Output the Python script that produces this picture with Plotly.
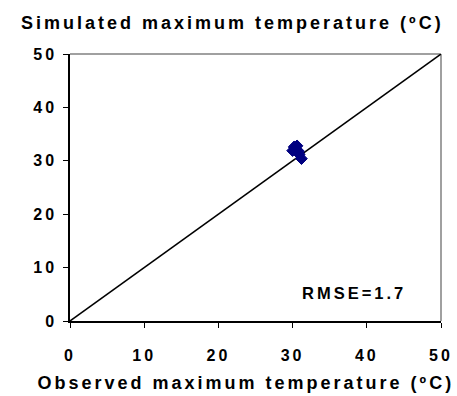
import plotly.graph_objects as go

# Observed vs simulated daily maximum temperature (°C)
observed = [30.2, 30.6, 30.0, 30.8, 30.4, 30.9, 31.2]
simulated = [32.6, 32.8, 31.9, 31.8, 32.2, 31.2, 30.4]

# 1:1 reference line
line_x = [0, 50]
line_y = [0, 50]

tick_vals = [0, 10, 20, 30, 40, 50]
tick_text = ["0", "10", "20", "30", "40", "50"]

rmse_label = "RMSE=1.7"
x_title = "Observed maximum temperature (ºC)"
y_title = "Simulated maximum temperature (ºC)"

FONT = "Liberation Sans, Arial, sans-serif"

fig = go.Figure()
fig.add_trace(go.Scatter(
    x=line_x, y=line_y, mode="lines",
    line=dict(color="black", width=1.5),
    hoverinfo="skip", showlegend=False,
))
fig.add_trace(go.Scatter(
    x=observed, y=simulated, mode="markers",
    marker=dict(symbol="diamond", size=9, color="#000080",
                line=dict(color="#000080", width=1)),
    showlegend=False,
))

axis_common = dict(
    range=[0, 50], tickvals=tick_vals, ticktext=tick_text,
    showgrid=False, zeroline=False, showline=True,
    linecolor="black", linewidth=1.5,
    ticks="outside", ticklen=5, tickwidth=1, tickcolor="black",
    tickfont=dict(family=FONT, size=16, color="black", weight="bold"),
)
fig.update_xaxes(**axis_common, ticklabelstandoff=14)
fig.update_yaxes(**axis_common, ticklabelstandoff=3)

# grey top and right edges of the plot frame
for x0, y0, x1, y1 in [(0, 1, 1, 1), (1, 0, 1, 1)]:
    fig.add_shape(type="line", xref="paper", yref="paper",
                  x0=x0, y0=y0, x1=x1, y1=y1,
                  line=dict(color="#808080", width=1.5), layer="below")

title_font = dict(family=FONT, size=18, color="black", weight="bold")
fig.add_annotation(text=y_title, xref="paper", yref="paper",
                   x=0.438, y=1.116, showarrow=False,
                   xanchor="center", yanchor="middle", font=title_font)
fig.add_annotation(text=x_title, xref="paper", yref="paper",
                   x=0.474, y=-0.234, showarrow=False,
                   xanchor="center", yanchor="middle", font=title_font)
fig.add_annotation(text=rmse_label, xref="x", yref="y",
                   x=38.3, y=5.2, showarrow=False,
                   xanchor="center", yanchor="middle",
                   font=dict(family=FONT, size=16.5, color="black", weight="bold"))

fig.update_layout(
    width=457, height=396,
    margin=dict(l=70, r=16, t=54, b=75, autoexpand=False),
    paper_bgcolor="white", plot_bgcolor="white",
    font=dict(family=FONT),
)

# widen character spacing of the bold labels
spacing_js = """
var gd = document.getElementById('{plot_id}');
gd.querySelectorAll('.xtick text, .ytick text').forEach(function(t){
  t.style.letterSpacing = '3px';
});
gd.querySelectorAll('.annotation-text').forEach(function(t){
  t.style.letterSpacing = '3px';
});
"""

fig.write_html("out.html", post_script=spacing_js)
